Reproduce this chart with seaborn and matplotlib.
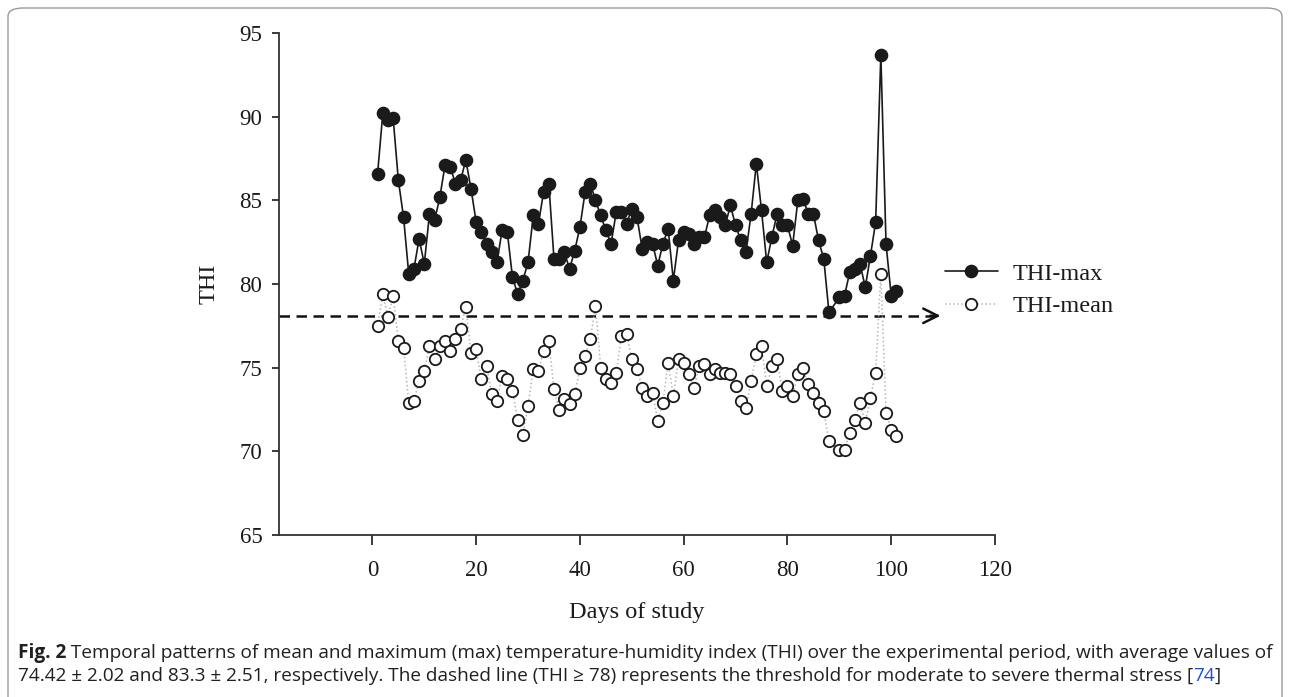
import matplotlib
matplotlib.use("Agg")
import matplotlib.pyplot as plt
import seaborn as sns
import pandas as pd
from matplotlib.lines import Line2D
from matplotlib.patches import FancyBboxPatch

# ---------------- data ----------------
days = list(range(1, 89)) + list(range(90, 102))

thi_max = [86.6, 90.2, 89.8, 89.9, 86.2, 84.0, 80.6, 80.9, 82.7, 81.2,
           84.2, 83.8, 85.2, 87.1, 87.0, 86.0, 86.2, 87.4, 85.7, 83.7,
           83.1, 82.4, 81.9, 81.3, 83.2, 83.1, 80.4, 79.4, 80.2, 81.3,
           84.1, 83.6, 85.5, 86.0, 81.5, 81.5, 81.9, 80.9, 82.0, 83.4,
           85.5, 86.0, 85.0, 84.1, 83.2, 82.4, 84.3, 84.3, 83.6, 84.5,
           84.0, 82.1, 82.5, 82.4, 81.1, 82.4, 83.3, 80.2, 82.6, 83.1,
           83.0, 82.4, 82.8, 82.8, 84.1, 84.4, 84.0, 83.5, 84.7, 83.5,
           82.6, 81.9, 84.2, 87.2, 84.4, 81.3, 82.8, 84.2, 83.5, 83.5,
           82.3, 85.0, 85.1, 84.2, 84.2, 82.6, 81.5, 78.3,
           79.2, 79.3, 80.7, 80.9, 81.2, 79.8, 81.7, 83.7, 93.7, 82.4,
           79.3, 79.6]

thi_mean = [77.5, 79.4, 78.0, 79.3, 76.6, 76.2, 72.9, 73.0, 74.2, 74.8,
            76.3, 75.5, 76.3, 76.6, 76.0, 76.7, 77.3, 78.6, 75.9, 76.1,
            74.3, 75.1, 73.4, 73.0, 74.5, 74.3, 73.6, 71.9, 71.0, 72.7,
            74.9, 74.8, 76.0, 76.6, 73.7, 72.5, 73.1, 72.8, 73.4, 75.0,
            75.7, 76.7, 78.7, 75.0, 74.3, 74.1, 74.7, 76.9, 77.0, 75.5,
            74.9, 73.8, 73.3, 73.5, 71.8, 72.9, 75.3, 73.3, 75.5, 75.3,
            74.6, 73.8, 75.1, 75.2, 74.6, 74.9, 74.7, 74.7, 74.6, 73.9,
            73.0, 72.6, 74.2, 75.8, 76.3, 73.9, 75.1, 75.5, 73.6, 73.9,
            73.3, 74.6, 75.0, 74.0, 73.5, 72.9, 72.4, 70.6,
            70.1, 70.1, 71.1, 71.9, 72.9, 71.7, 73.2, 74.7, 80.6, 72.3,
            71.3, 70.9]

series_labels = ["THI-max", "THI-mean"]
threshold = 78.1
threshold_end_day = 109.5
x_ticks = [0, 20, 40, 60, 80, 100, 120]
y_ticks = [65, 70, 75, 80, 85, 90, 95]
x_label = "Days of study"
y_label = "THI"

caption_bold = "Fig. 2"
caption_line1 = (" Temporal patterns of mean and maximum (max) temperature-humidity index (THI) "
                 "over the experimental period, with average values of")
caption_line2a = ("74.42 \u00b1 2.02 and 83.3 \u00b1 2.51, respectively. The dashed line (THI \u2265 78) "
                  "represents the threshold for moderate to severe thermal stress [")
caption_ref = "74"
caption_line2b = "]"

df = pd.DataFrame({"day": days, "max": thi_max, "mean": thi_mean})

# ---------------- style ----------------
sns.set_style("ticks")
plt.rcParams["font.family"] = ["Liberation Serif", "DejaVu Serif"]
plt.rcParams["mathtext.fontset"] = "stix"

fig = plt.figure(figsize=(12.9, 6.97), dpi=100)
ax = fig.add_axes([0.2163, 0.2324, 0.555, 0.7203])

# mean series: dotted light-gray connectors + open circles
sns.lineplot(data=df, x="day", y="mean", ax=ax, sort=False, color="#b5b5b5",
             linestyle=":", linewidth=1.1, marker="o", markersize=8.2,
             markerfacecolor="white", markeredgecolor="#1a1a1a",
             markeredgewidth=1.3, zorder=3)
# max series: solid black line + filled circles
sns.lineplot(data=df, x="day", y="max", ax=ax, sort=False, color="#1a1a1a",
             linestyle="-", linewidth=1.2, marker="o", markersize=8.8,
             markerfacecolor="#1a1a1a", markeredgecolor="#1a1a1a",
             markeredgewidth=1.0, zorder=4)

# threshold dashed line with arrow head
ax.plot([-18, threshold_end_day - 0.3], [threshold, threshold], color="#111111",
        linestyle=(0, (4.2, 2.6)), linewidth=1.8, zorder=2, clip_on=False)
ax.annotate("", xy=(threshold_end_day, threshold), xytext=(threshold_end_day - 2, threshold),
            arrowprops=dict(arrowstyle="->", color="#111111", lw=1.8,
                            mutation_scale=26, shrinkA=0, shrinkB=0),
            zorder=2, annotation_clip=False)

ax.set_xlim(-18, 120)
ax.set_ylim(65, 95)
ax.set_xticks(x_ticks)
ax.set_yticks(y_ticks)
ax.set_xticklabels([str(t) for t in x_ticks])
ax.set_yticklabels([str(t) for t in y_ticks])
ax.tick_params(axis="x", direction="out", length=7, width=1.2, pad=11,
               labelsize=16.5, colors="#1a1a1a")
ax.tick_params(axis="y", direction="out", length=5, width=1.2, pad=7,
               labelsize=16.5, colors="#1a1a1a")
for s in ["top", "right"]:
    ax.spines[s].set_visible(False)
for s in ["left", "bottom"]:
    ax.spines[s].set_linewidth(1.3)
    ax.spines[s].set_color("#333333")

ax.set_xlabel(x_label, fontsize=17.5, labelpad=15, color="#1a1a1a")
ax.set_ylabel(y_label, fontsize=17.5, labelpad=14, color="#1a1a1a")

handles = [
    Line2D([], [], color="#1a1a1a", linestyle="-", linewidth=1.2, marker="o",
           markersize=8.8, markerfacecolor="#1a1a1a", markeredgecolor="#1a1a1a"),
    Line2D([], [], color="#b5b5b5", linestyle=":", linewidth=1.1, marker="o",
           markersize=8.2, markerfacecolor="white", markeredgecolor="#1a1a1a",
           markeredgewidth=1.3),
]
leg = ax.legend(handles, series_labels, loc="center left",
                bbox_to_anchor=(0.9, 0.488), frameon=False, fontsize=17.5,
                handlelength=2.15, handletextpad=0.6, labelspacing=0.45)
for t in leg.get_texts():
    t.set_color("#1a1a1a")

# ---------------- caption & frame ----------------
frame = FancyBboxPatch((8 / 1290, -0.05), 1274 / 1290, 1.05 - 8 / 697,
                       boxstyle="round,pad=0,rounding_size=0.012",
                       transform=fig.transFigure, facecolor="none",
                       edgecolor="#9a9a9a", linewidth=1.0, clip_on=False)
fig.patches.append(frame)

cap_font = ["Open Sans", "DejaVu Sans"]
cap_size = 13.7
cap_color = "#231f20"
renderer = fig.canvas.get_renderer()


def chain(pieces, x0, y):
    x = x0
    for txt, weight, color in pieces:
        t = fig.text(x, y, txt, family=cap_font, fontsize=cap_size,
                     fontweight=weight, color=color, va="baseline", ha="left")
        bb = t.get_window_extent(renderer=renderer)
        x = x + bb.width / fig.bbox.width


x0 = 18 / 1290
chain([(caption_bold, "bold", cap_color), (caption_line1, "normal", cap_color)],
      x0, 1 - 658 / 697)
chain([(caption_line2a, "normal", cap_color), (caption_ref, "normal", "#1a4fd8"),
       (caption_line2b, "normal", cap_color)], x0, 1 - 681 / 697)

fig.savefig("out.png", dpi=100)
